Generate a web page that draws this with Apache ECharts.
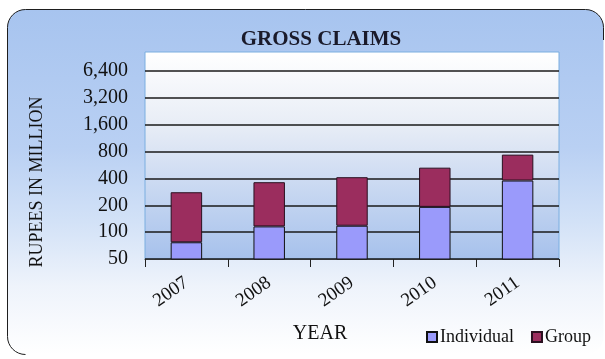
<!DOCTYPE html>
<html>
<head>
<meta charset="utf-8">
<script src="https://cdn.jsdelivr.net/npm/echarts@6/dist/echarts.min.js"></script>
<style>
  html, body { margin: 0; padding: 0; background: #ffffff; }
  #chart { width: 605px; height: 359px; }
</style>
</head>
<body>
<div id="chart"></div>
<script>
// Gross claims by year, in millions of rupees
const years = ['2007', '2008', '2009', '2010', '2011'];
const individual = [77, 116, 118, 192, 379];
const group = [203, 247, 295, 336, 360];
const yTicks = [50, 100, 200, 400, 800, 1600, 3200, 6400];

const serif = 'Liberation Serif';
const edge = { fill: null, stroke: '#1e1e1e', lineWidth: 1 };

const chart = echarts.init(document.getElementById('chart'), null, { renderer: 'canvas' });

const option = {
  animation: false,
  backgroundColor: '#ffffff',
  title: {
    text: 'GROSS CLAIMS',
    left: 316,
    top: 24,
    textAlign: 'center',
    textStyle: { fontFamily: serif, fontSize: 21, fontWeight: 'bold', color: '#1a1a2a' }
  },
  graphic: [
    {
      // rounded panel behind the whole chart
      type: 'rect',
      z: -10,
      shape: { x: 7.5, y: 9.5, width: 596, height: 345, r: 18 },
      style: {
        fill: {
          type: 'linear', x: 0, y: 0, x2: 0, y2: 1,
          colorStops: [
            { offset: 0, color: '#a7c4ef' },
            { offset: 0.4, color: '#b9d0f3' },
            { offset: 0.62, color: '#d3e2f7' },
            { offset: 0.8, color: '#eef3fb' },
            { offset: 1, color: '#ffffff' }
          ]
        }
      }
    },
    // panel outline: left and top edges with rounded corners
    {
      type: 'polyline', z: -8,
      shape: { points: [[7.5, 336.5], [7.5, 27.5]] },
      style: edge
    },
    {
      type: 'polyline', z: -8,
      shape: { points: [[25.5, 9.5], [585.5, 9.5]] },
      style: edge
    },
    {
      type: 'polyline', z: -8,
      shape: { points: [[603.5, 27.5], [603.5, 40]] },
      style: edge
    },
    {
      type: 'arc', z: -8,
      shape: { cx: 25.5, cy: 27.5, r: 18, startAngle: Math.PI, endAngle: Math.PI * 1.5 },
      style: edge
    },
    {
      type: 'arc', z: -8,
      shape: { cx: 585.5, cy: 27.5, r: 18, startAngle: Math.PI * 1.5, endAngle: Math.PI * 2 },
      style: edge
    },
    {
      type: 'arc', z: -8,
      shape: { cx: 25.5, cy: 336.5, r: 18, startAngle: Math.PI * 0.5, endAngle: Math.PI },
      style: edge
    },
    {
      // plot area backdrop
      type: 'rect',
      z: -9,
      shape: { x: 145, y: 52, width: 414, height: 207 },
      style: {
        fill: {
          type: 'linear', x: 0, y: 0, x2: 0, y2: 1,
          colorStops: [
            { offset: 0, color: '#ffffff' },
            { offset: 0.35, color: '#e8edf6' },
            { offset: 1, color: '#a6c1ec' }
          ]
        },
        stroke: '#7aaee0',
        lineWidth: 1
      }
    },
    {
      type: 'text',
      x: 37,
      y: 182,
      rotation: Math.PI / 2,
      style: {
        text: 'RUPEES IN MILLION',
        font: '18px "Liberation Serif"',
        fill: '#111111',
        textAlign: 'center',
        textVerticalAlign: 'middle'
      }
    },
    {
      type: 'text',
      x: 320,
      y: 334,
      style: {
        text: 'YEAR',
        font: '20px "Liberation Serif"',
        fill: '#111111',
        textAlign: 'center',
        textVerticalAlign: 'middle'
      }
    }
  ],
  legend: {
    left: 421,
    top: 323,
    icon: 'rect',
    itemWidth: 10,
    itemHeight: 10,
    itemGap: 17,
    textStyle: { fontFamily: serif, fontSize: 18, color: '#111111', padding: [0, 0, 0, -2] },
    data: ['Individual', 'Group']
  },
  grid: { left: 145, right: 46, top: 71, bottom: 100, containLabel: false },
  xAxis: {
    type: 'category',
    data: years,
    axisLine: { show: true, lineStyle: { color: '#333333', width: 1 } },
    axisTick: { show: true, length: 8, lineStyle: { color: '#222222' } },
    axisLabel: {
      rotate: 35,
      margin: 22,
      fontFamily: serif,
      fontSize: 19,
      color: '#111111'
    },
    splitLine: { show: false }
  },
  yAxis: {
    type: 'log',
    logBase: 2,
    min: 50,
    max: 6400,
    axisLine: { show: false },
    axisTick: { show: false, customValues: yTicks },
    axisLabel: {
      customValues: yTicks,
      margin: 17,
      fontFamily: serif,
      fontSize: 20,
      color: '#111111',
      formatter: v => Math.round(v).toLocaleString('en-US')
    },
    splitLine: { show: true, lineStyle: { color: '#1a1a1a', width: 1.5 } }
  },
  series: [
    {
      name: 'Individual',
      type: 'bar',
      stack: 'claims',
      barWidth: '38%',
      data: individual,
      itemStyle: { color: '#9a9afb', borderColor: '#111111', borderWidth: 1 }
    },
    {
      name: 'Group',
      type: 'bar',
      stack: 'claims',
      barWidth: '38%',
      data: group,
      itemStyle: { color: '#9b2d5e', borderColor: '#2a1020', borderWidth: 1 }
    }
  ]
};

chart.setOption(option);
</script>
</body>
</html>
